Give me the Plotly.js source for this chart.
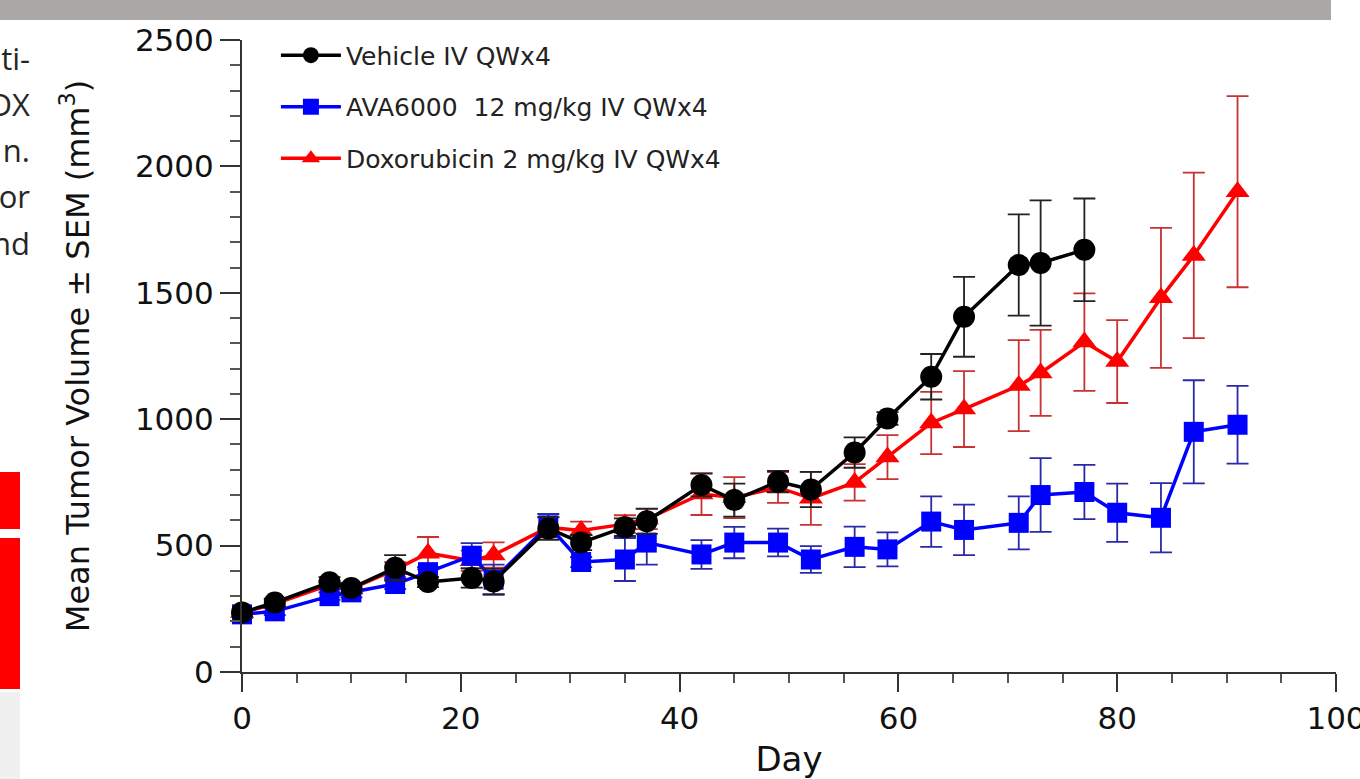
<!DOCTYPE html>
<html>
<head>
<meta charset="utf-8">
<script src="https://cdn.plot.ly/plotly-3.0.1.min.js"></script>
<style>
  html, body { margin:0; padding:0; width:1360px; height:779px; overflow:hidden; background:#ffffff; }
  #chart { position:absolute; left:0; top:0; width:1360px; height:779px; }
  .deco { position:absolute; z-index:5; }
  .frag { position:absolute; z-index:5; left:-200px; width:230px; text-align:right; white-space:nowrap;
          font-family:"Open Sans", "Noto Sans", sans-serif; font-size:31px; color:#262626; line-height:1; }
</style>
</head>
<body>
<div id="chart"></div>
<div class="deco" style="left:0;top:0;width:1331px;height:20px;background:#aba7a6;"></div>
<div class="deco" style="left:0;top:472px;width:20px;height:57px;background:#ff0000;"></div>
<div class="deco" style="left:0;top:538px;width:20px;height:151px;background:#ff0000;"></div>
<div class="deco" style="left:0;top:692px;width:20px;height:87px;background:#f0f0f0;"></div>
<div class="frag" style="top:43px;">ti-</div>
<div class="frag" style="top:89px;">PDX</div>
<div class="frag" style="top:135px;">n.</div>
<div class="frag" style="top:181px;">or</div>
<div class="frag" style="top:228px;">nd</div>
<script>
// ---- data ----
const daysVehicle = [0, 3, 8, 10, 14, 17, 21, 23, 28, 31, 35, 37, 42, 45, 49, 52, 56, 59, 63, 66, 71, 73, 77];
const vehicleMean = [235, 275, 355, 332, 412, 356, 372, 358, 568, 512, 573, 596, 740, 680, 753, 722, 868, 1003, 1168, 1405, 1610, 1618, 1670];
const vehicleSem  = [15, 15, 20, 20, 50, 20, 38, 50, 45, 30, 35, 50, 45, 65, 42, 70, 60, 25, 90, 158, 200, 248, 203];

const daysTreated = [0, 3, 8, 10, 14, 17, 21, 23, 28, 31, 35, 37, 42, 45, 49, 52, 56, 59, 63, 66, 71, 73, 77, 80, 84, 87, 91];
const avaMean = [228, 240, 300, 315, 348, 395, 460, 365, 580, 435, 445, 512, 465, 512, 512, 445, 495, 485, 595, 562, 590, 700, 712, 630, 610, 950, 978];
const avaSem  = [15, 15, 15, 20, 20, 20, 50, 60, 45, 20, 85, 87, 57, 62, 55, 53, 80, 67, 100, 100, 105, 146, 107, 115, 137, 204, 154];
const doxMean = [235, 270, 345, 330, 405, 470, 440, 463, 572, 560, 585, 605, 704, 690, 730, 687, 750, 850, 985, 1040, 1133, 1183, 1305, 1228, 1480, 1648, 1900];
const doxSem  = [15, 15, 15, 20, 30, 64, 40, 50, 40, 35, 35, 40, 83, 81, 61, 105, 72, 87, 123, 150, 180, 170, 193, 164, 277, 327, 378];

const seriesNames = ['Vehicle IV QWx4', 'AVA6000  12 mg/kg IV QWx4', 'Doxorubicin 2 mg/kg IV QWx4'];
const xTitle = 'Day';
const yTitle = 'Mean Tumor Volume \u00b1 SEM (mm<sup>3</sup>)';

const FONT = '"DejaVu Sans", "Liberation Sans", Arial, sans-serif';

function trace(x, y, err, name, rank, group, lineColor, errColor, symbol, size) {
  return {
    type: 'scatter', mode: 'lines+markers', x: x, y: y, name: name, legendrank: rank, legendgroup: group,
    cliponaxis: false,
    line: { color: lineColor, width: 3.5 },
    marker: { color: lineColor, symbol: symbol, size: size, line: { width: 0 } },
    error_y: { type: 'data', array: err, visible: true, color: errColor, thickness: 1.8, width: 11 }
  };
}

const data = [
  trace(daysTreated, doxMean, doxSem, seriesNames[2], 3, 'g3', '#ff0000', '#c83232', 'triangle-up', 21),
  trace(daysTreated, avaMean, avaSem, seriesNames[1], 2, 'g2', '#0000ff', '#2a2aa8', 'square', 20),
  trace(daysVehicle, vehicleMean, vehicleSem, seriesNames[0], 1, 'g1', '#000000', '#222222', 'circle', 22)
];

const layout = {
  width: 1360, height: 779,
  margin: { l: 242, r: 24, t: 40, b: 107 },
  paper_bgcolor: '#ffffff', plot_bgcolor: '#ffffff',
  font: { family: FONT, color: '#1a1a1a' },
  showlegend: true,
  legend: {
    x: 0.031, y: 1.012, xanchor: 'left', yanchor: 'top',
    bgcolor: 'rgba(0,0,0,0)', borderwidth: 0,
    font: { family: FONT, size: 25, color: '#222222' },
    tracegroupgap: 16, traceorder: 'grouped', itemwidth: 60
  },
  xaxis: {
    range: [0, 100], dtick: 20, tick0: 0,
    showline: true, linecolor: '#333333', linewidth: 2,
    ticks: 'outside', ticklen: 18, tickwidth: 2, tickcolor: '#333333',
    minor: { dtick: 5, ticks: 'outside', ticklen: 9, tickwidth: 2, tickcolor: '#555555', showgrid: false },
    showgrid: false, zeroline: false, ticklabeloverflow: 'allow',
    tickfont: { family: FONT, size: 31, color: '#111111' },
    title: { text: xTitle, font: { family: FONT, size: 34, color: '#111111' }, standoff: 38 },
    automargin: false
  },
  yaxis: {
    range: [0, 2500], dtick: 500, tick0: 0,
    showline: true, linecolor: '#333333', linewidth: 2,
    ticks: 'outside', ticklen: 20, tickwidth: 2, tickcolor: '#333333',
    minor: { dtick: 100, ticks: 'outside', ticklen: 10, tickwidth: 2, tickcolor: '#555555', showgrid: false },
    showgrid: false, zeroline: false,
    tickfont: { family: FONT, size: 31, color: '#111111' },
    title: { text: yTitle, font: { family: FONT, size: 32, color: '#111111' }, standoff: 36 },
    automargin: false
  }
};

Plotly.newPlot('chart', data, layout, { staticPlot: true, displayModeBar: false });
</script>
</body>
</html>
